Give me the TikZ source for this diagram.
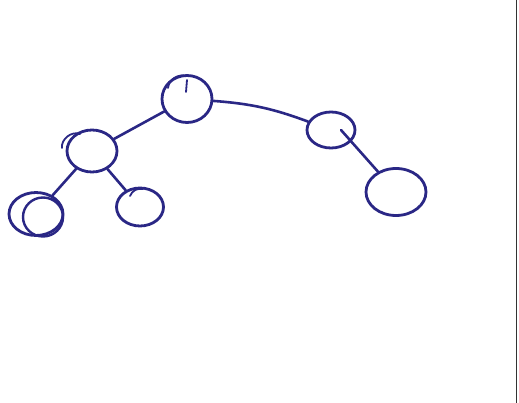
\documentclass[tikz,border=0pt]{standalone}
\usetikzlibrary{shapes.geometric}
\definecolor{ink}{HTML}{2A2785}
\begin{document}
\begin{tikzpicture}[x=1pt,y=-1pt,
  circ/.style={ellipse,draw=ink,line width=2.8pt,inner sep=0pt},
  edge/.style={draw=ink,line width=2.6pt,line cap=round},
  inkmark/.style={draw=ink,line width=1.8pt,line cap=round}]
\useasboundingbox (0,0) rectangle (519,403);
\fill[white] (0,0) rectangle (519,403);
\node[circ,minimum width=50pt,minimum height=47pt] (root) at (187,99) {};
\node[circ,minimum width=50pt,minimum height=42pt] (lc) at (92,151) {};
\node[circ,minimum width=54pt,minimum height=43pt] (ll) at (36,214) {};
\node[circ,minimum width=47pt,minimum height=38pt] (lr) at (140,207) {};
\node[circ,minimum width=48pt,minimum height=36pt] (rc) at (331,130) {};
\node[circ,minimum width=60pt,minimum height=47pt] (rr) at (396,192) {};
% inner stroke of the doubled circle
\draw[draw=ink,line width=2.4pt] (43,217) ellipse (20pt and 19.5pt);
% small marks on tops
\draw[inkmark] (187,80) -- (186,92);
\draw[inkmark] (168,88) to[bend left=50] (186,76);
\draw[inkmark] (62,148) to[bend left=60] (80,134);
\draw[inkmark] (130,196) to[bend left=40] (143,189);
\draw[edge] (root) -- (lc);
\draw[edge] (lc) -- (ll);
\draw[edge] (lc) -- (lr);
\draw[edge] (root) to[bend left=8] (rc);
\draw[edge] (341,130) -- (rr);
\draw[draw=black!80,line width=1.2pt] (516.5,0) -- (516.5,403);
\end{tikzpicture}
\end{document}
